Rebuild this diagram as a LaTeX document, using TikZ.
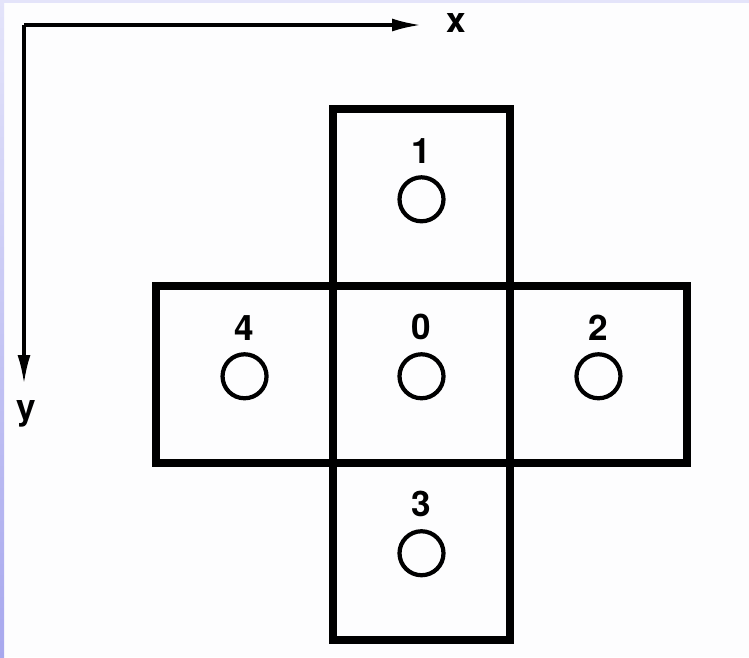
\documentclass[tikz,border=0pt]{standalone}
\usepackage{fontspec}
\setmainfont{TeX Gyre Heros}
\usepackage{tikz}
\usetikzlibrary{arrows.meta,positioning}
\definecolor{lavtop}{RGB}{228,228,250}
\definecolor{lavbot}{RGB}{168,168,238}
\definecolor{paper}{RGB}{253,253,254}
\tikzset{
  cell/.style  = {draw, line width=4.3pt, minimum size=3.54cm, inner sep=0pt,
                  outer sep=0pt},
  hole/.style  = {circle, draw, line width=2.4pt, minimum size=0.88cm, inner sep=0pt},
  num/.style   = {font=\fontsize{20}{22}\selectfont\bfseries, inner sep=0pt},
  axis/.style  = {-{Latex[length=5.8mm,width=2.6mm]}, line width=1.8pt},
}
\begin{document}
\begin{tikzpicture}[x=0.02cm,y=-0.02cm]
  \useasboundingbox (0,0) rectangle (749,657);
  \fill[paper] (0,0) rectangle (749,657);
  \shade[top color=lavtop,bottom color=lavbot] (0,0) rectangle (4,657);
  \fill[lavtop] (4,0) rectangle (749,3);
  % axes
  \coordinate (o) at (24,25);
  \coordinate (xend) at (421,25);
  \coordinate (yend) at (24,384);
  \draw[axis] (o) -- (xend);
  \draw[axis] (o) -- (yend);
  \node[num] (xlab) at (456,23) {x};
  \node[num] (ylab) at (26,414) {y};
  % cross of cells
  \node[cell] (c0) at (421.5,374.5) {};
  \node[cell, above=0pt of c0] (c1) {};
  \node[cell, right=0pt of c0] (c2) {};
  \node[cell, below=0pt of c0] (c3) {};
  \node[cell, left=0pt of c0] (c4) {};
  % holes and numbers
  \node[hole] (h0) at ([yshift=-1pt]c0.center) {};
  \node[hole] (h1) at ([yshift=-1pt]c1.center) {};
  \node[hole] (h2) at ([yshift=-1pt]c2.center) {};
  \node[hole] (h3) at ([yshift=-1pt]c3.center) {};
  \node[hole] (h4) at ([yshift=-1pt]c4.center) {};
  \node[num, above=6.6pt of h0] (n0) {0};
  \node[num, above=6.6pt of h1] (n1) {1};
  \node[num, above=6.6pt of h2] (n2) {2};
  \node[num, above=6.6pt of h3] (n3) {3};
  \node[num, above=6.6pt of h4] (n4) {4};
\end{tikzpicture}
\end{document}
